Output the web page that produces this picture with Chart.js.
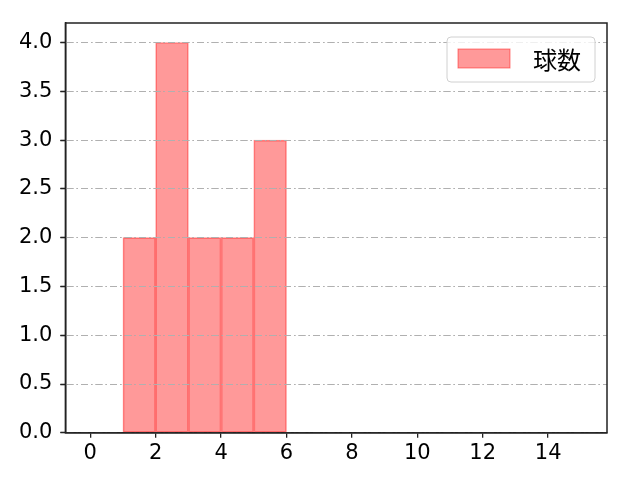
<!DOCTYPE html>
<html>
<head>
<meta charset="utf-8">
<script src="https://cdn.jsdelivr.net/npm/chart.js@4/dist/chart.umd.min.js"></script>
<style>
  html, body { margin: 0; padding: 0; background: #fff; }
  #wrap { width: 640px; height: 480px; }
</style>
</head>
<body>
<div id="wrap"><canvas id="myChart" width="640" height="480"></canvas></div>
<script>
// histogram bins (left edge, right edge) and counts
var binStart = [1, 2, 3, 4, 5];
var binEnd = [2, 3, 4, 5, 6];
var counts = [2, 4, 2, 2, 3];
var seriesName = '球数';
var xTicks = [0, 2, 4, 6, 8, 10, 12, 14];
var yTicks = [0, 0.5, 1.0, 1.5, 2.0, 2.5, 3.0, 3.5, 4.0];

var fontName = "'Noto Sans CJK JP', 'DejaVu Sans', sans-serif";
var tickFont = "'DejaVu Sans', sans-serif";

var points = [];
for (var i = 0; i < counts.length; i++) {
    points.push({ x: (binStart[i] + binEnd[i]) / 2, y: counts[i] });
}

// box round the plot, grid on top of bars, legend inside the axes
var framePlugin = {
    id: 'frame',
    afterDatasetsDraw: function (chart) {
        var a = chart.chartArea;
        var ctx = chart.ctx;
        chart.scales.y.drawGrid(a);
        ctx.save();
        ctx.setLineDash([]);
        ctx.strokeStyle = '#222';
        ctx.lineWidth = 1.5;
        ctx.strokeRect(a.left, a.top, a.right - a.left, a.bottom - a.top);

        // legend
        var ds = chart.data.datasets[0];
        var bx = a.right - 160, by = a.top + 14, bw = 148, bh = 45;
        ctx.beginPath();
        ctx.lineWidth = 1;
        ctx.strokeStyle = '#d0d0d0';
        ctx.fillStyle = 'rgba(255,255,255,0.8)';
        ctx.roundRect(bx, by, bw, bh, 4);
        ctx.fill();
        ctx.stroke();
        ctx.fillStyle = ds.backgroundColor;
        ctx.fillRect(bx + 11, by + 12, 52, 19);
        ctx.strokeStyle = ds.borderColor;
        ctx.strokeRect(bx + 11, by + 12, 52, 19);
        ctx.fillStyle = '#000';
        ctx.font = '24px ' + fontName;
        ctx.textBaseline = 'middle';
        ctx.fillText(ds.label, bx + 86, by + 23);
        ctx.restore();
    }
};

var ctx = document.getElementById('myChart').getContext('2d');
var myChart = new Chart(ctx, {
    type: 'bar',
    data: {
        datasets: [{
            label: seriesName,
            data: points,
            backgroundColor: 'rgba(255, 60, 60, 0.52)',
            borderColor: 'rgba(255, 20, 20, 0.5)',
            borderWidth: 1,
            borderSkipped: false,
            barPercentage: 1.0,
            categoryPercentage: 1.0
        }]
    },
    options: {
        responsive: false,
        animation: false,
        devicePixelRatio: 1,
        layout: { padding: { left: 11, right: 33, top: 23, bottom: 11 } },
        plugins: {
            legend: { display: false },
            tooltip: { enabled: false }
        },
        scales: {
            x: {
                type: 'linear',
                offset: false,
                min: -0.76,
                max: 15.8,
                afterBuildTicks: function (axis) {
                    axis.ticks = xTicks.map(function (v) { return { value: v }; });
                },
                ticks: {
                    color: '#000',
                    font: { family: tickFont, size: 21 },
                    padding: 3,
                    autoSkip: false,
                    maxRotation: 0
                },
                grid: {
                    offset: false,
                    drawOnChartArea: false,
                    drawTicks: true,
                    tickLength: 5,
                    color: '#222',
                    lineWidth: 1.3
                },
                border: { display: true, color: '#222', width: 1.5 }
            },
            y: {
                type: 'linear',
                min: 0,
                max: 4.2,
                afterBuildTicks: function (axis) {
                    axis.ticks = yTicks.map(function (v) { return { value: v }; });
                },
                ticks: {
                    color: '#000',
                    font: { family: tickFont, size: 21 },
                    padding: 8,
                    autoSkip: false,
                    callback: function (v) { return Number(v).toFixed(1); }
                },
                grid: {
                    drawOnChartArea: true,
                    drawTicks: true,
                    tickLength: 5,
                    color: '#b0b0b0',
                    lineWidth: 1,
                    tickColor: '#222',
                    tickWidth: 1.3,
                    tickBorderDash: []
                },
                border: { display: true, color: '#222', width: 1.5, dash: [7, 3, 1.5, 3] }
            }
        }
    },
    plugins: [framePlugin]
});
</script>
</body>
</html>
